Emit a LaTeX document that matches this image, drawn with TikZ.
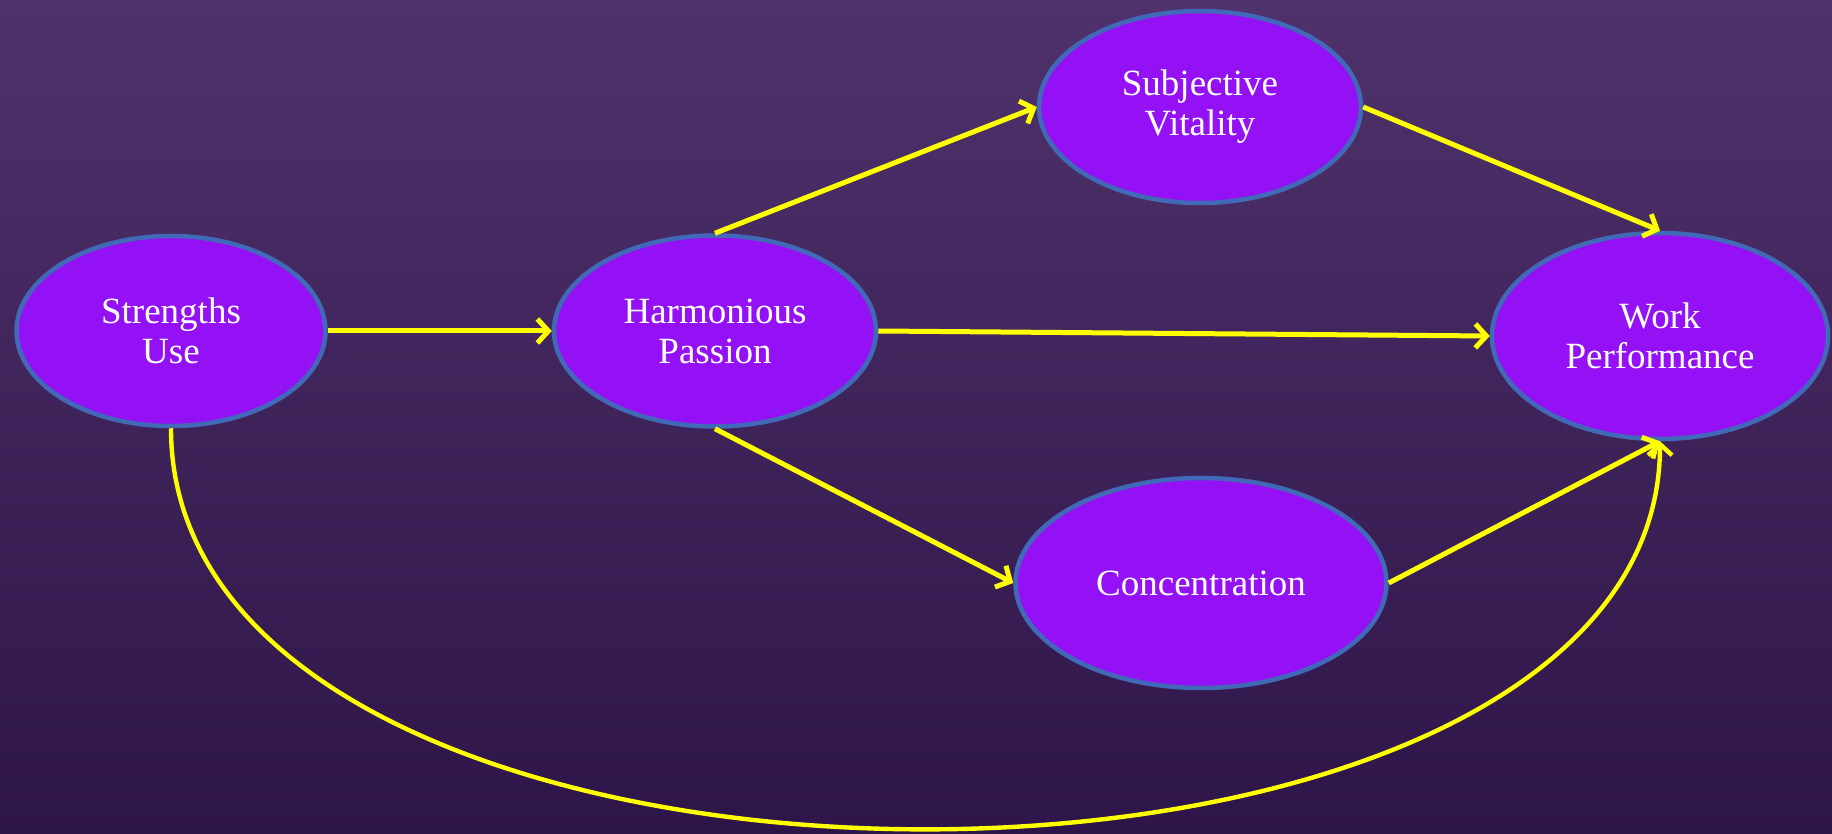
\documentclass[tikz,border=0pt]{standalone}
\usepackage{fontspec}
\setmainfont{Liberation Serif}
\usetikzlibrary{shapes.geometric,arrows.meta}
\definecolor{bgtop}{HTML}{4F326B}
\definecolor{bgbot}{HTML}{2E1549}
\definecolor{nodefill}{HTML}{9410F5}
\definecolor{nodeedge}{HTML}{4169B8}
\definecolor{linkyellow}{HTML}{FFFF00}
\begin{document}
\begin{tikzpicture}[x=1pt,y=-1pt,
  bubble/.style={ellipse, draw=nodeedge, line width=4.5pt, fill=nodefill, inner sep=0pt,
    text=white, align=center, font=\fontsize{37}{40}\selectfont},
  link/.style={draw=linkyellow, line width=5pt, -{Straight Barb[length=11pt,width=24pt]}}]
\shade[top color=bgtop, bottom color=bgbot] (0,0) rectangle (1832,834);
\useasboundingbox (0,0) rectangle (1832,834);
\node[bubble, minimum width=309pt, minimum height=190pt] (su) at (171,331) {Strengths\\Use};
\node[bubble, minimum width=322pt, minimum height=191pt] (hp) at (715,331) {Harmonious\\Passion};
\node[bubble, minimum width=322pt, minimum height=192pt] (sv) at (1200,107) {Subjective\\Vitality};
\node[bubble, minimum width=336pt, minimum height=206pt] (wp) at (1660,336) {Work\\Performance};
\node[bubble, minimum width=371pt, minimum height=210pt] (co) at (1201,583) {Concentration};
\draw[link] (su.east) -- (hp.west);
\draw[link] (hp.north) -- (sv.west);
\draw[link] (hp.east) -- (wp.west);
\draw[link] (hp.south) -- (co.west);
\draw[link] (sv.east) -- (wp.north);
\draw[link] (co.east) -- (wp.south);
\draw[link, line width=4.4pt] (su.south) .. controls (171,960) and (1660,960) .. (wp.south);
\end{tikzpicture}
\end{document}
